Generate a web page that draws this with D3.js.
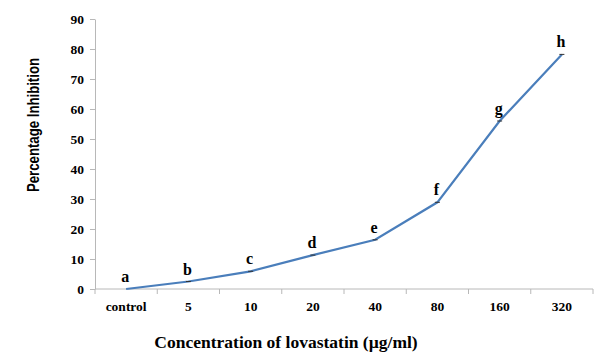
<!DOCTYPE html>
<html>
<head>
<meta charset="utf-8">
<script src="https://cdnjs.cloudflare.com/ajax/libs/d3/7.8.5/d3.min.js"></script>
<style>
  body { margin: 0; background: #fff; }
  svg text { font-family: "Liberation Serif", "Times New Roman", serif; font-weight: bold; }
</style>
</head>
<body>
<svg id="chart" width="597" height="353"></svg>
<script>
// concentrations of lovastatin and the measured inhibition
const categories = ["control", "5", "10", "20", "40", "80", "160", "320"];
const inhibition = [0, 2.5, 5.9, 11.3, 16.4, 28.9, 56.0, 78.2];
const letters = ["a", "b", "c", "d", "e", "f", "g", "h"];
const yTicks = [0, 10, 20, 30, 40, 50, 60, 70, 80, 90];

const svg = d3.select("#chart");
const margin = { left: 95, right: 4, top: 19, bottom: 64 };
const width = 597, height = 353;

const x = d3.scaleBand()
    .domain(categories)
    .range([margin.left, width - margin.right]);

const y = d3.scaleLinear()
    .domain([0, 90])
    .range([height - margin.bottom, margin.top]);

// y axis
const yAxis = svg.append("g")
    .attr("transform", "translate(" + margin.left + ",0)")
    .call(d3.axisLeft(y).tickValues(yTicks).tickSize(5).tickSizeOuter(0).tickPadding(6));
yAxis.select(".domain").attr("stroke", "#b8b8b8");
yAxis.selectAll(".tick line").attr("stroke", "#b8b8b8");
yAxis.selectAll("text").attr("fill", "#000").style("font-size", "13.5px")
    .style("font-family", "Liberation Serif, serif").style("font-weight", "bold");

// x axis, ticks between categories
const xAxisG = svg.append("g")
    .attr("transform", "translate(0," + y(0) + ")");
xAxisG.append("line")
    .attr("x1", margin.left).attr("x2", width - margin.right)
    .attr("stroke", "#b8b8b8");
const bounds = categories.map(c => x(c)).concat([x(categories[categories.length - 1]) + x.bandwidth()]);
xAxisG.selectAll(".xtick")
    .data(bounds)
    .enter()
    .append("line")
    .attr("x1", d => d).attr("x2", d => d)
    .attr("y1", 0).attr("y2", 5)
    .attr("stroke", "#b8b8b8");
xAxisG.selectAll(".xlab")
    .data(categories)
    .enter()
    .append("text")
    .attr("x", d => x(d) + x.bandwidth() / 2)
    .attr("y", 22)
    .attr("text-anchor", "middle")
    .style("font-size", "13.5px")
    .text(d => d);

// line
const pts = categories.map((c, i) => ({ c: c, v: inhibition[i], l: letters[i] }));
const line = d3.line()
    .x(d => x(d.c) + x.bandwidth() / 2)
    .y(d => y(d.v));

svg.append("path")
    .datum(pts)
    .attr("fill", "none")
    .attr("stroke", "#4a7ebb")
    .attr("stroke-width", 2.2)
    .attr("d", line);

// tiny error bar caps
svg.selectAll(".cap")
    .data(pts.slice(1))
    .enter()
    .append("line")
    .attr("x1", d => x(d.c) + x.bandwidth() / 2 - 2.5)
    .attr("x2", d => x(d.c) + x.bandwidth() / 2 + 2.5)
    .attr("y1", d => y(d.v))
    .attr("y2", d => y(d.v))
    .attr("stroke", "#333")
    .attr("stroke-width", 1);

// significance letters
svg.selectAll(".letter")
    .data(pts)
    .enter()
    .append("text")
    .attr("x", d => x(d.c) + x.bandwidth() / 2 - 1)
    .attr("y", d => y(d.v) - 7)
    .attr("text-anchor", "middle")
    .style("font-size", "16px")
    .text(d => d.l);

// axis titles
svg.append("text")
    .attr("x", 286)
    .attr("y", 348)
    .attr("text-anchor", "middle")
    .style("font-size", "17.5px")
    .text("Concentration of lovastatin (\u00b5g/ml)");

// narrow font look: squeeze glyphs to the reference length
svg.append("text")
    .attr("transform", "translate(39,125) rotate(-90)")
    .attr("text-anchor", "middle")
    .attr("textLength", 134)
    .attr("lengthAdjust", "spacingAndGlyphs")
    .style("font-family", "Liberation Sans, Arial, sans-serif")
    .style("font-size", "16px")
    .text("Percentage Inhibition");
</script>
</body>
</html>
